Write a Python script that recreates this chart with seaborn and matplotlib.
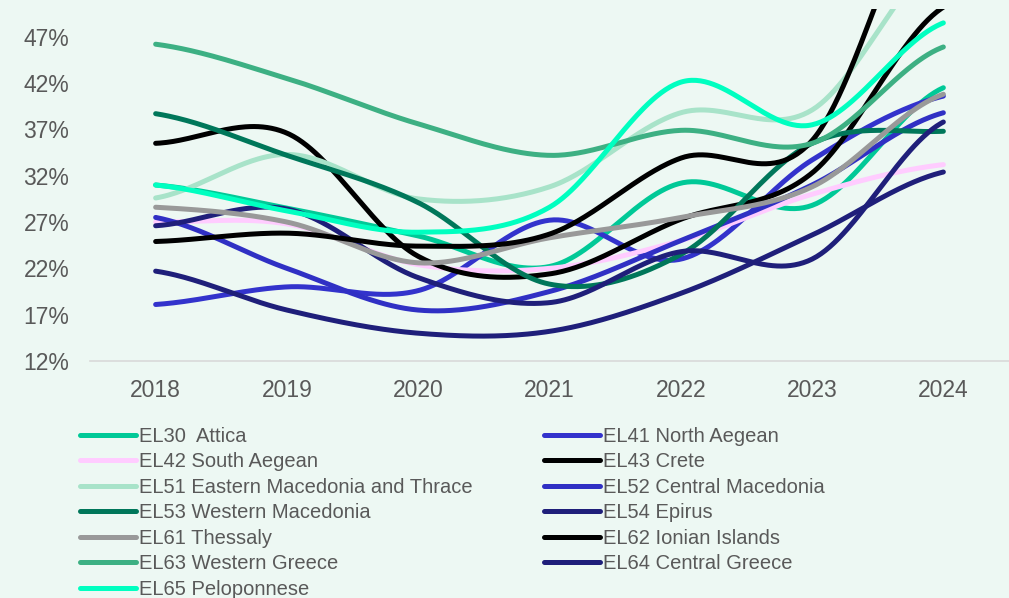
import numpy as np
import pandas as pd
import matplotlib
matplotlib.use("Agg")
import matplotlib.pyplot as plt
import seaborn as sns

# ---- data -------------------------------------------------------------
years = ["2018", "2019", "2020", "2021", "2022", "2023", "2024"]

regions = [
    "EL30  Attica", "EL41 North Aegean", "EL42 South Aegean", "EL43 Crete",
    "EL51 Eastern Macedonia and Thrace", "EL52 Central Macedonia",
    "EL53 Western Macedonia", "EL54 Epirus", "EL61 Thessaly",
    "EL62 Ionian Islands", "EL63 Western Greece", "EL64 Central Greece",
    "EL65 Peloponnese",
]

el30 = [31.0, 28.5, 25.5, 22.2, 31.2, 28.8, 41.5]
el41 = [18.1, 20.0, 19.6, 27.2, 23.0, 33.7, 40.6]
el42 = [27.0, 26.8, 22.4, 22.0, 25.0, 30.0, 33.2]
el43 = [35.5, 36.6, 23.3, 21.4, 27.3, 32.3, 50.2]
el51 = [29.6, 34.3, 29.5, 30.8, 38.8, 39.1, 56.0]
el52 = [27.5, 22.0, 17.5, 19.5, 25.0, 31.0, 38.8]
el53 = [38.7, 34.2, 29.1, 20.3, 23.5, 35.5, 36.8]
el54 = [26.6, 28.4, 21.0, 18.3, 23.8, 23.0, 37.8]
el61 = [28.6, 27.0, 22.6, 25.3, 27.5, 30.8, 40.8]
el62 = [24.9, 25.8, 24.4, 25.7, 33.9, 35.8, 66.0]
el63 = [46.2, 42.5, 37.6, 34.2, 36.9, 35.5, 45.9]
el64 = [21.7, 17.5, 15.0, 15.2, 19.3, 25.6, 32.4]
el65 = [31.0, 28.2, 25.9, 28.6, 42.1, 37.5, 48.5]

series = [el30, el41, el42, el43, el51, el52, el53, el54, el61, el62, el63, el64, el65]

colors = [
    "#00C997", "#3333CC", "#FFCCFF", "#000000", "#A8E3C9", "#3030C4",
    "#00775A", "#1F1F7A", "#999999", "#000000", "#3DB083", "#1F1F7A",
    "#00FFC0",
]

y_ticks = [12, 17, 22, 27, 32, 37, 42, 47]

# legend reading order: left column, then right column
legend_order = [0, 2, 4, 6, 8, 10, 12, 1, 3, 5, 7, 9, 11]


def smooth_curve(values, steps=60):
    """Catmull-Rom style Bezier smoothing between category positions."""
    v = np.asarray(values, dtype=float)
    n = len(v)
    xs, ys = [], []
    for i in range(n - 1):
        p0 = v[i - 1] if i > 0 else v[i]
        p1, p2 = v[i], v[i + 1]
        p3 = v[i + 2] if i + 2 < n else v[i + 1]
        c1 = p1 + (p2 - p0) / 6.0
        c2 = p2 - (p3 - p1) / 6.0
        t = np.linspace(0, 1, steps, endpoint=(i == n - 2))
        b = ((1 - t) ** 3) * p1 + 3 * ((1 - t) ** 2) * t * c1 \
            + 3 * (1 - t) * t ** 2 * c2 + t ** 3 * p2
        xs.append(i + t)
        ys.append(b)
    return np.concatenate(xs), np.concatenate(ys)


# ---- figure -----------------------------------------------------------
bg = "#EDF8F3"
text_col = "#595959"

sns.set_theme(style="white")
plt.rcParams["font.family"] = ["Liberation Sans", "DejaVu Sans"]

fig = plt.figure(figsize=(10.09, 5.98), dpi=100, facecolor=bg)
ax = fig.add_axes([90 / 1009, 1 - 361 / 598, 919 / 1009, 352 / 598])
ax.set_facecolor(bg)

for name, vals, col in zip(regions, series, colors):
    sx, sy = smooth_curve(vals)
    sns.lineplot(x=sx, y=sy, ax=ax, color=col, linewidth=3.6, label=name,
                 sort=False, estimator=None, solid_capstyle="round")

ax.set_xlim(-0.5, len(years) - 0.5)
ax.set_ylim(12, 50)
ax.set_xticks(range(len(years)))
ax.set_xticklabels(years)
ax.set_yticks(y_ticks)
ax.set_yticklabels([f"{t}%" for t in y_ticks])
ax.set_xlabel("")
ax.set_ylabel("")
ax.grid(False)

for side in ["left", "top", "right"]:
    ax.spines[side].set_visible(False)
ax.spines["bottom"].set_color("#D9D9D9")
ax.spines["bottom"].set_linewidth(1.2)

ax.tick_params(axis="x", length=0, pad=13, labelsize=16.5, labelcolor=text_col)
ax.tick_params(axis="y", length=0, pad=15, labelsize=16.5, labelcolor=text_col)

handles, labels = ax.get_legend_handles_labels()
handles = [handles[i] for i in legend_order]
labels = [labels[i] for i in legend_order]
leg = fig.legend(handles, labels, loc="upper left",
                 bbox_to_anchor=(80 / 1009, 1 - 427 / 598), ncol=2,
                 frameon=False, fontsize=14.5, handlelength=2.8,
                 handletextpad=0.15, columnspacing=3.5, labelspacing=0.32,
                 borderpad=0, borderaxespad=0)
for t in leg.get_texts():
    t.set_color(text_col)
for h in leg.get_lines():
    h.set_linewidth(3.6)
    h.set_solid_capstyle("round")
if ax.get_legend() is not None:
    ax.get_legend().remove()

fig.savefig("out.png", dpi=100, facecolor=bg)
